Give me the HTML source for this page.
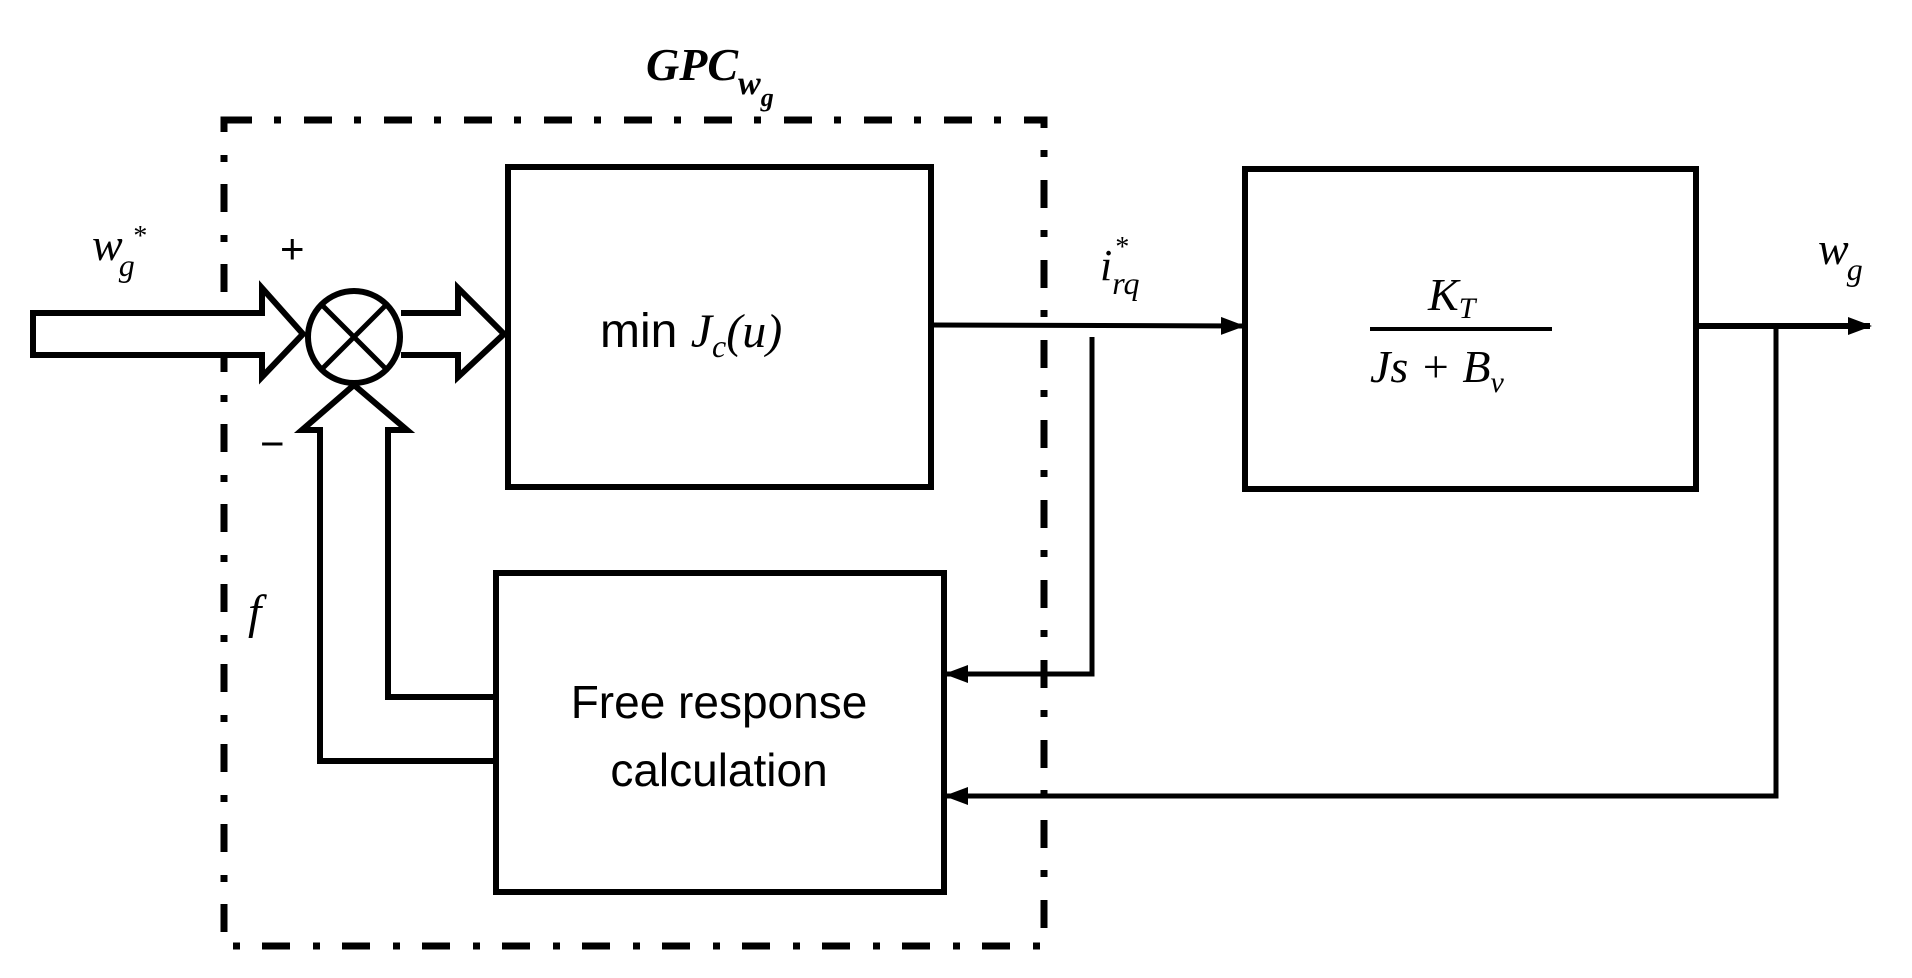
<!DOCTYPE html>
<html><head><meta charset="utf-8"><style>
html,body{margin:0;padding:0;background:#fff;}
svg{display:block;}
.m{font-family:"Liberation Serif",serif;font-style:italic;}
.s{font-family:"Liberation Sans",sans-serif;}
</style></head><body>
<svg width="1912" height="978" viewBox="0 0 1912 978" xmlns="http://www.w3.org/2000/svg">
<defs>
<marker id="ah" markerWidth="24" markerHeight="18" refX="22" refY="9" orient="auto" markerUnits="userSpaceOnUse">
<path d="M0,0 L24,9 L0,18 Z" fill="#000"/>
</marker>
</defs>
<rect x="224" y="120" width="820" height="826" fill="none" stroke="#000" stroke-width="7" stroke-dasharray="28 22 7 23"/>
<rect x="508" y="167" width="423" height="320" fill="none" stroke="#000" stroke-width="6"/>
<rect x="496" y="573" width="448" height="319" fill="none" stroke="#000" stroke-width="6"/>
<rect x="1245" y="169" width="451" height="320" fill="none" stroke="#000" stroke-width="6"/>
<path d="M33,313 L262,313 L262,288 L303,334 L262,377 L262,355 L33,355 Z" fill="#fff" stroke="#000" stroke-width="6"/>
<path d="M401,313 L458,313 L458,288 L504,334 L458,377 L458,355 L401,355" fill="#fff" stroke="#000" stroke-width="6"/>
<circle cx="354" cy="337" r="46" fill="#fff" stroke="#000" stroke-width="6"/>
<line x1="322" y1="305" x2="386" y2="369" stroke="#000" stroke-width="5"/>
<line x1="386" y1="305" x2="322" y2="369" stroke="#000" stroke-width="5"/>
<path d="M320,761 L320,430 L302,430 L354,385 L407,430 L388,430 L388,697 L496,697" fill="none" stroke="#000" stroke-width="6"/>
<path d="M320,758 L320,761 L496,761" fill="none" stroke="#000" stroke-width="6"/>
<line x1="931" y1="325" x2="1243" y2="326" stroke="#000" stroke-width="5" marker-end="url(#ah)"/>
<polyline points="1092,337 1092,674 946,674" fill="none" stroke="#000" stroke-width="5" marker-end="url(#ah)"/>
<line x1="1696" y1="326" x2="1870" y2="326" stroke="#000" stroke-width="6" marker-end="url(#ah)"/>
<polyline points="1776,323 1776,796 946,796" fill="none" stroke="#000" stroke-width="5" marker-end="url(#ah)"/>
<line x1="1370" y1="329" x2="1552" y2="329" stroke="#000" stroke-width="4"/>
<text class="m" x="92" y="260" font-size="46">w<tspan font-size="32" dx="-4" dy="16">g</tspan></text>
<text class="m" x="132" y="245" font-size="28">*</text>
<text class="s" x="280" y="263" font-size="42">+</text>
<text class="s" x="260" y="458" font-size="42">−</text>
<text class="m" x="248" y="628" font-size="48">f</text>
<text class="m" x="646" y="80" font-size="46" font-weight="bold">GPC<tspan font-size="34" dy="14">w</tspan><tspan font-size="26" dy="12">g</tspan></text>
<text class="m" x="1100" y="280" font-size="44">i<tspan font-size="32" dy="14">rq</tspan></text>
<text class="m" x="1114" y="256" font-size="28">*</text>
<text class="m" x="1818" y="264" font-size="46">w<tspan font-size="32" dx="-2" dy="16">g</tspan></text>
<text class="m" x="1428" y="310" font-size="46">K<tspan font-size="30" dy="8">T</tspan></text>
<text class="m" x="1370" y="382" font-size="46">Js + B<tspan font-size="30" dy="10">v</tspan></text>
<text x="600" y="347" font-size="48"><tspan class="s">min </tspan><tspan class="m">J</tspan><tspan class="m" font-size="32" dy="10">c</tspan><tspan class="m" dy="-10">(u)</tspan></text>
<text class="s" x="719" y="718" font-size="46" text-anchor="middle">Free response</text>
<text class="s" x="719" y="786" font-size="46" text-anchor="middle">calculation</text>
</svg>
</body></html>
